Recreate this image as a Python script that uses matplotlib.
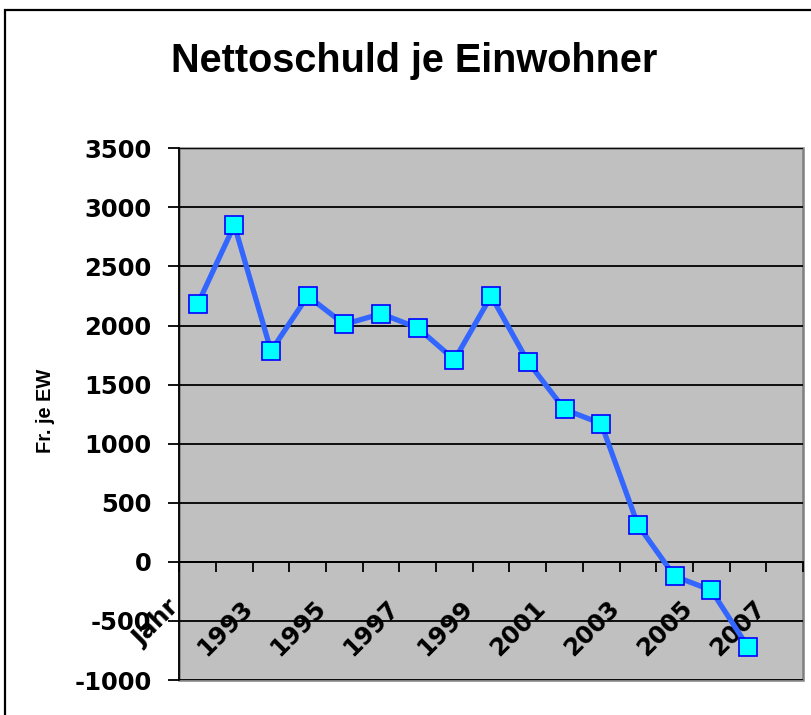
import numpy as np
import matplotlib.pyplot as plt
from matplotlib.patches import Rectangle
from matplotlib.transforms import ScaledTranslation

# Kategorien (Excel-Achse) und Werte je Einwohner
kategorien = ["Jahr", "1992", "1993", "1994", "1995", "1996", "1997", "1998", "1999",
              "2000", "2001", "2002", "2003", "2004", "2005", "2006", "2007"]
werte = [2180, 2850, 1785, 2250, 2010, 2100, 1980, 1710, 2250,
         1695, 1290, 1170, 312, -122, -240, -721, np.nan]
y_ticks = [-1000, -500, 0, 500, 1000, 1500, 2000, 2500, 3000, 3500]

W, H = 812, 715
fig = plt.figure(figsize=(W / 100, H / 100), dpi=100)

# plot area in pixels
left, right, top, bottom = 179.3, 803, 148.3, 680
ax = fig.add_axes([left / W, 1 - bottom / H, (right - left) / W, (bottom - top) / H])
ax.set_facecolor("#C0C0C0")

x = np.arange(len(kategorien))
ax.plot(x, werte, color="#3366FF", lw=3.8, marker="s", ms=12.5,
        mfc="#00FFFF", mec="#0000FF", mew=1.2, zorder=4, clip_on=False)

ax.set_xlim(-0.5, len(kategorien) - 0.5)
ax.set_ylim(-1000, 3500)

# horizontal gridlines
ax.set_yticks(y_ticks)
ax.yaxis.grid(True, color="black", lw=1.3)
ax.set_axisbelow(True)

tick_font = dict(family="DejaVu Sans", weight="bold", size=17.5)
ax.set_yticklabels([str(v) for v in y_ticks], fontdict=tick_font)
ax.tick_params(axis="y", length=8, width=1.3, pad=12, direction="out")

# category axis crosses at 0, ticks between categories
ax.spines["bottom"].set_position(("data", 0))
ax.spines["bottom"].set_linewidth(1.3)
ax.spines["left"].set_linewidth(1.3)
for s in ["top", "right"]:
    ax.spines[s].set_visible(False)
ax.add_patch(Rectangle((0, 0), 1, 1, transform=ax.transAxes, fill=False,
                       edgecolor="#808080", lw=1.8, zorder=0.5, clip_on=False))
ax.set_xticks(np.arange(len(kategorien) + 1) - 0.5)
ax.set_xticklabels([])
ax.tick_params(axis="x", length=7, width=1.3, direction="out")

offset = ScaledTranslation(-0.14, -0.34, fig.dpi_scale_trans)
for i, lab in enumerate(kategorien):
    if i % 2 == 0:
        ax.text(i, 0, lab, rotation=45, ha="right", va="top",
                transform=ax.transData + offset, fontdict=tick_font, zorder=3)

# title and axis title
fig.text(413.7 / W, 1 - 71.7 / H, "Nettoschuld je Einwohner", ha="center", va="baseline",
         family="Liberation Sans", weight="bold", size=28.5)
fig.text(46 / W, 1 - 411 / H, "Fr. je EW", rotation=90, ha="center", va="center",
         family="Liberation Sans", weight="bold", size=14.4)

# chart frame
fig.patches.append(Rectangle((5 / W, -0.1), 1.2, 1.1 - 10 / H, transform=fig.transFigure,
                             fill=False, edgecolor="black", lw=1.6))

fig.savefig("out.png", dpi=100)
